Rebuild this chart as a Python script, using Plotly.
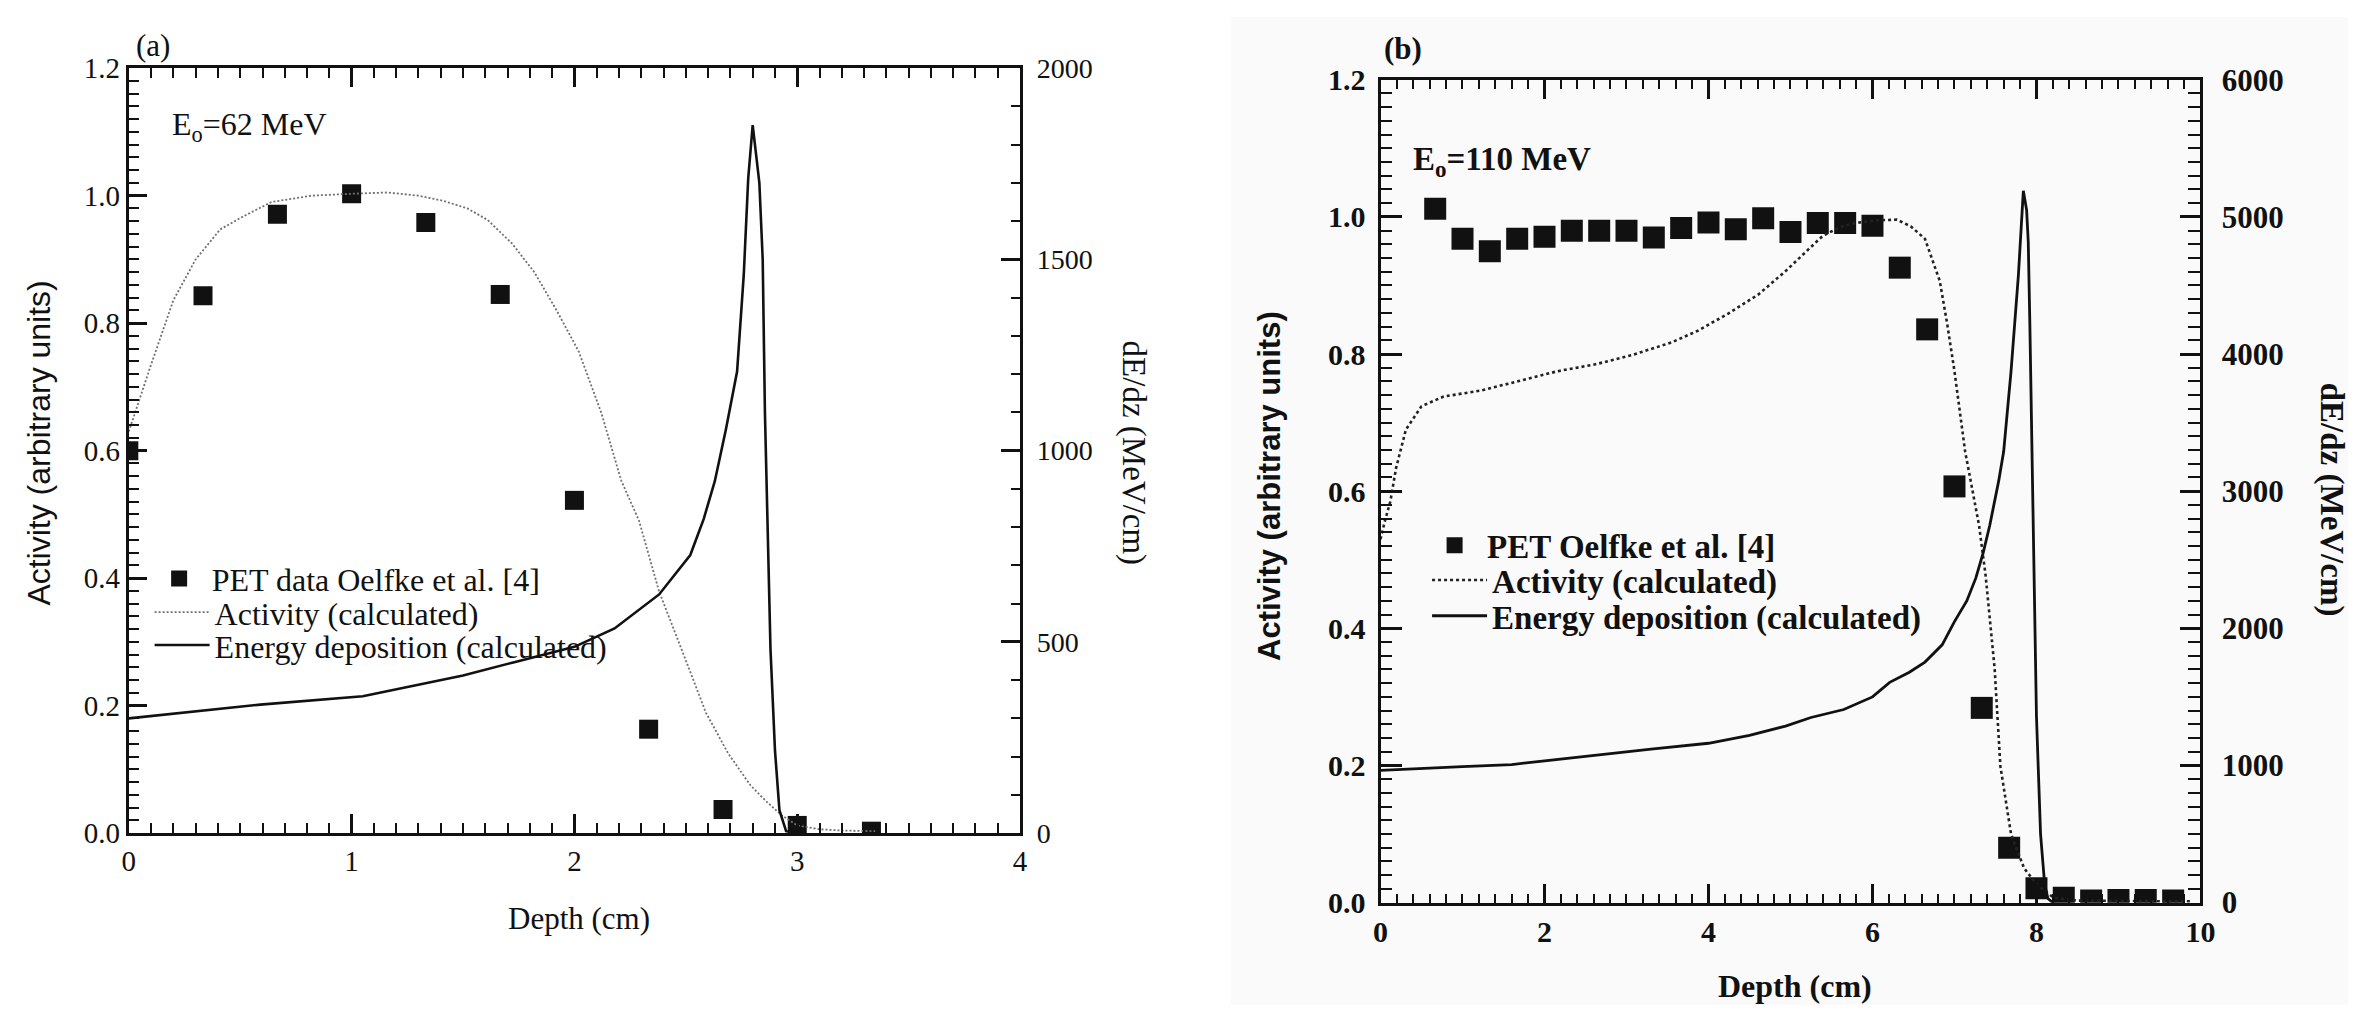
import plotly.graph_objects as go

W, H = 2363, 1023

# ---------------- panel (a): 62 MeV ----------------
pet_a_depth = [0.0, 0.333, 0.667, 1.0, 1.333, 1.667, 2.0, 2.333, 2.667, 3.0, 3.333]
pet_a_act = [0.60, 0.843, 0.971, 1.003, 0.958, 0.845, 0.522, 0.163, 0.037, 0.012, 0.003]

act_a_depth = [0.0, 0.1, 0.2, 0.3, 0.41, 0.5, 0.64, 0.82, 1.0, 1.16, 1.3, 1.41, 1.52,
               1.61, 1.72, 1.82, 1.92, 2.02, 2.12, 2.21, 2.29, 2.38, 2.49, 2.59, 2.69,
               2.79, 2.86, 2.93, 3.0, 3.1, 3.2, 3.35]
act_a_val = [0.63, 0.735, 0.836, 0.90, 0.947, 0.965, 0.99, 1.0, 1.003, 1.005, 1.0, 0.992,
             0.98, 0.962, 0.925, 0.88, 0.82, 0.755, 0.66, 0.553, 0.49, 0.379, 0.28, 0.189,
             0.125, 0.075, 0.05, 0.028, 0.012, 0.006, 0.004, 0.003]

dep_a_depth = [0.0, 0.3, 0.59, 1.05, 1.5, 1.73, 2.0, 2.18, 2.38, 2.52, 2.58, 2.63, 2.68,
               2.73, 2.76, 2.78, 2.80, 2.83, 2.845, 2.855, 2.865, 2.88, 2.90, 2.92, 2.95, 3.0]
dep_a_val = [300, 318, 336, 358, 412, 447, 487, 535, 624, 727, 821, 920, 1056, 1207, 1460,
             1712, 1851, 1700, 1500, 1100, 850, 480, 217, 60, 5, 0]

# ---------------- panel (b): 110 MeV ----------------
pet_b_depth = [0.667, 1.0, 1.333, 1.667, 2.0, 2.333, 2.667, 3.0, 3.333, 3.667, 4.0, 4.333,
               4.667, 5.0, 5.333, 5.667, 6.0, 6.333, 6.667, 7.0, 7.333, 7.667, 8.0, 8.333,
               8.667, 9.0, 9.333, 9.667]
pet_b_act = [1.012, 0.968, 0.950, 0.968, 0.971, 0.980, 0.980, 0.980, 0.970, 0.984, 0.992,
             0.982, 0.998, 0.978, 0.991, 0.991, 0.987, 0.926, 0.836, 0.607, 0.284, 0.080,
             0.021, 0.007, 0.003, 0.004, 0.004, 0.003]

act_b_depth = [0.0, 0.05, 0.12, 0.19, 0.31, 0.5, 0.77, 1.23, 1.7, 2.16, 2.62, 3.08, 3.55,
               3.87, 4.24, 4.61, 4.94, 5.2, 5.39, 5.6, 5.78, 6.05, 6.3, 6.47, 6.64, 6.82,
               6.91, 7.0, 7.13, 7.3, 7.38, 7.49, 7.56, 7.69, 7.85, 8.0, 8.21, 8.5, 9.0,
               9.5, 9.9]
act_b_val = [0.53, 0.555, 0.585, 0.634, 0.690, 0.724, 0.738, 0.747, 0.761, 0.775, 0.785,
             0.799, 0.817, 0.834, 0.859, 0.887, 0.921, 0.950, 0.972, 0.985, 0.991, 0.995,
             0.996, 0.986, 0.968, 0.907, 0.845, 0.775, 0.658, 0.55, 0.477, 0.341, 0.199,
             0.100, 0.05, 0.027, 0.007, 0.003, 0.002, 0.002, 0.002]

dep_b_depth = [0.0, 0.5, 1.0, 1.6, 2.1, 2.62, 3.3, 4.0, 4.5, 4.94, 5.25, 5.65, 6.0, 6.21,
               6.45, 6.64, 6.85, 7.0, 7.15, 7.26, 7.35, 7.43, 7.54, 7.6, 7.69, 7.78, 7.84,
               7.88, 7.9, 7.92, 7.95, 8.0, 8.05, 8.1, 8.14, 8.2]
dep_b_val = [965, 980, 992, 1007, 1040, 1077, 1120, 1162, 1220, 1287, 1350, 1408, 1500,
             1606, 1680, 1754, 1880, 2049, 2200, 2366, 2550, 2750, 3077, 3289, 3873, 4577,
             5190, 5050, 4817, 4200, 3077, 1359, 500, 134, 30, 0]

legend_names_a = ["PET data Oelfke et al. [4]", "Activity (calculated)",
                  "Energy deposition (calculated)"]
legend_names_b = ["PET Oelfke et al. [4]", "Activity (calculated)",
                  "Energy deposition (calculated)"]

INK = "#111111"
SERIF = "Liberation Serif"
SANS = "Liberation Sans"


def fx(p):
    return p / W


def fy(p):
    return 1 - p / H


fig = go.Figure()

# panel (a) traces, one legend box per row so rows can be spaced tightly
fig.add_trace(go.Scatter(x=pet_a_depth, y=pet_a_act, mode="markers", name=legend_names_a[0],
                         marker=dict(symbol="square", size=19, color=INK),
                         xaxis="x", yaxis="y", legend="legend"))
fig.add_trace(go.Scatter(x=act_a_depth, y=act_a_val, mode="lines", name=legend_names_a[1],
                         line=dict(color="#707070", width=1.8, dash="2px,2px"),
                         xaxis="x", yaxis="y", legend="legend2"))
fig.add_trace(go.Scatter(x=dep_a_depth, y=dep_a_val, mode="lines", name=legend_names_a[2],
                         line=dict(color=INK, width=2.6),
                         xaxis="x", yaxis="y2", legend="legend3"))

# panel (b) traces
fig.add_trace(go.Scatter(x=pet_b_depth, y=pet_b_act, mode="markers", name=legend_names_b[0],
                         marker=dict(symbol="square", size=22, color=INK),
                         xaxis="x2", yaxis="y3", legend="legend4"))
fig.add_trace(go.Scatter(x=act_b_depth, y=act_b_val, mode="lines", name=legend_names_b[1],
                         line=dict(color="#222222", width=2.6, dash="3px,3px"),
                         xaxis="x2", yaxis="y3", legend="legend5"))
fig.add_trace(go.Scatter(x=dep_b_depth, y=dep_b_val, mode="lines", name=legend_names_b[2],
                         line=dict(color=INK, width=2.8),
                         xaxis="x2", yaxis="y4", legend="legend6"))


def axis(domain=None, rng=None, dtick=None, minor_dtick=None, ticklen=19, minorlen=10,
         fmt=None, size=28, bold=False, **kw):
    d = dict(range=rng, dtick=dtick, tick0=0, ticks="inside", ticklen=ticklen,
             tickwidth=2.5, tickcolor=INK, showline=True, linewidth=3, linecolor=INK,
             showgrid=False, zeroline=False,
             tickfont=dict(family=SERIF, size=size, color=INK,
                           weight="bold" if bold else "normal"),
             minor=dict(dtick=minor_dtick, tick0=0, ticks="inside", ticklen=minorlen,
                        tickwidth=2.2, tickcolor=INK, showgrid=False))
    if domain is not None:
        d["domain"] = domain
    if fmt:
        d["tickformat"] = fmt
    d.update(kw)
    return d


def legend_box(left, center, size, bold=False):
    # top edge placed relative to the wanted row centre
    return dict(x=fx(left), y=fy(center + 17), xanchor="left", yanchor="top",
                bgcolor="rgba(0,0,0,0)", itemwidth=55, borderwidth=0,
                font=dict(family=SERIF, size=size, color=INK,
                          weight="bold" if bold else "normal"))


# plot-area pixel bounds
ax_a = dict(l=122, r=1022, t=53, b=845)
ax_b = dict(l=1386, r=2214, t=65, b=917)

fig.update_layout(
    width=W, height=H, margin=dict(l=0, r=0, t=0, b=0),
    paper_bgcolor="white", plot_bgcolor="rgba(0,0,0,0)",
    font=dict(family=SERIF, color=INK),
    xaxis=axis([fx(ax_a["l"]), fx(ax_a["r"])], [0, 4], 1, 0.1, 19, 10, None, 29,
               anchor="y", mirror="ticks"),
    yaxis=axis([fy(ax_a["b"]), fy(ax_a["t"])], [0, 1.2], 0.2, 0.02, 18, 10, ".1f", 29,
               anchor="x"),
    yaxis2=axis(None, [0, 2000], 500, 100, 19, 9, None, 28,
                overlaying="y", side="right", anchor="x", ticklabelstandoff=8),
    xaxis2=axis([fx(ax_b["l"]), fx(ax_b["r"])], [0, 10], 2, 0.2, 19, 9, None, 30, True,
                anchor="y3", mirror="ticks"),
    yaxis3=axis([fy(ax_b["b"]), fy(ax_b["t"])], [0, 1.2], 0.2, 0.02, 21, 11, ".1f", 30,
                True, anchor="x2", ticklabelstandoff=6),
    yaxis4=axis(None, [0, 6000], 1000, 100, 20, 12, None, 31, True,
                overlaying="y3", side="right", anchor="x2", ticklabelstandoff=12),
    legend=legend_box(140, 536, 32),
    legend2=legend_box(143, 571, 32),
    legend3=legend_box(143, 605, 32),
    legend4=legend_box(1428, 501, 33, True),
    legend5=legend_box(1433, 537, 33, True),
    legend6=legend_box(1433, 574, 33, True),
    showlegend=True,
    # faint grey tone behind panel (b)
    shapes=[dict(type="rect", xref="paper", yref="paper", x0=fx(1235), x1=1, y0=0, y1=1,
                 fillcolor="#fafafa", line=dict(width=0), layer="below")],
)

annotations = [
    # panel labels
    dict(text="(a)", x=fx(127), y=fy(30), xanchor="left", yanchor="middle",
         font=dict(family=SERIF, size=31)),
    dict(text="(b)", x=fx(1388), y=fy(33), xanchor="left", yanchor="middle",
         font=dict(family=SERIF, size=31, weight="bold")),
    # beam energies
    dict(text="E<sub>o</sub>=62 MeV", x=fx(164), y=fy(113), xanchor="left",
         yanchor="middle", font=dict(family=SERIF, size=32)),
    dict(text="E<sub>o</sub>=110 MeV", x=fx(1417), y=fy(150), xanchor="left",
         yanchor="middle", font=dict(family=SERIF, size=33, weight="bold")),
    # axis titles, panel (a)
    dict(text="Depth (cm)", x=fx(577), y=fy(933), xanchor="center", yanchor="middle",
         font=dict(family=SERIF, size=31)),
    dict(text="Activity (arbitrary units)", x=fx(31), y=fy(441), textangle=-90,
         xanchor="center", yanchor="middle", font=dict(family=SANS, size=32)),
    dict(text="dE/dz (MeV/cm)", x=fx(1137), y=fy(452), textangle=90,
         xanchor="center", yanchor="middle", font=dict(family=SERIF, size=33)),
    # axis titles, panel (b)
    dict(text="Depth (cm)", x=fx(1805), y=fy(1003), xanchor="center", yanchor="middle",
         font=dict(family=SERIF, size=32, weight="bold")),
    dict(text="Activity (arbitrary units)", x=fx(1274), y=fy(486), textangle=-90,
         xanchor="center", yanchor="middle",
         font=dict(family=SANS, size=31, weight="bold")),
    dict(text="dE/dz (MeV/cm)", x=fx(2346), y=fy(500), textangle=90,
         xanchor="center", yanchor="middle",
         font=dict(family=SERIF, size=33, weight="bold")),
]
for a in annotations:
    a.update(xref="paper", yref="paper", showarrow=False)
fig.update_layout(annotations=annotations)

fig.write_html("out.html")
